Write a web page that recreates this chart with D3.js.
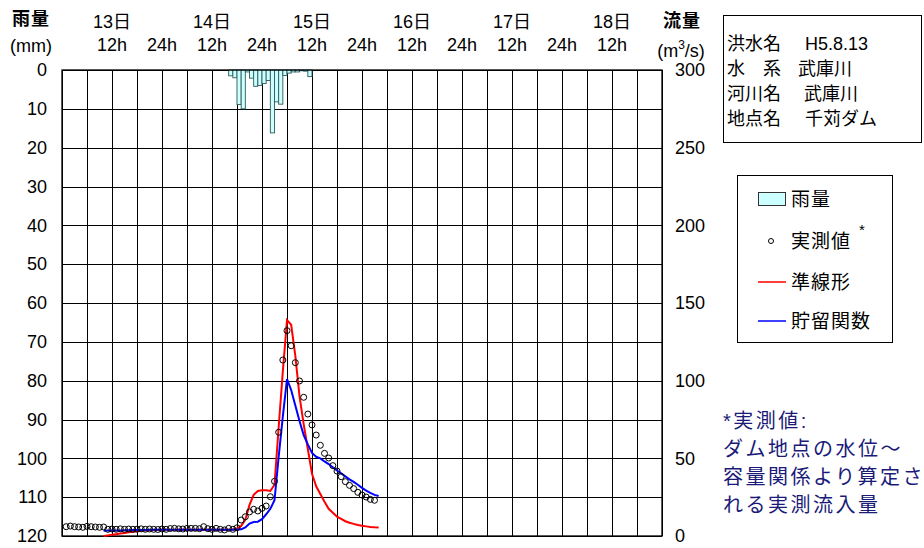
<!DOCTYPE html>
<html><head><meta charset="utf-8">
<script src="https://cdn.jsdelivr.net/npm/d3@7"></script>
<style>
body{margin:0;background:#fff}
svg{display:block;font-family:"Liberation Sans","Noto Sans CJK JP",Arial,sans-serif}
</style>
</head><body>
<svg id="c" width="924" height="548"></svg>
<script>
// ---- data ----
const dayLabels = ["13日","14日","15日","16日","17日","18日"];
const dayLabelHours = [12,36,60,84,108,132];
const hourTickHours = [12,24,36,48,60,72,84,96,108,120,132];
const hourTickLabels = ["12h","24h","12h","24h","12h","24h","12h","24h","12h","24h","12h"];
const rainTicks = [0,10,20,30,40,50,60,70,80,90,100,110,120];
const flowTicks = [0,50,100,150,200,250,300];

// hourly rainfall (mm) starting at hour 40 (14日 16h)
const rainStartHour = 40;
const rainfall = [1.5,2.0,8.9,10.0,0.5,2.1,4.2,4.0,3.5,2.7,16.2,8.2,8.8,1.4,0.8,0.5,0.5,0.2,0.3,1.7];

// observed inflow (m3/s), hourly from hour 1
const obsStartHour = 1;
const observed = [6.0,6.4,6.0,5.8,5.6,6.2,6.0,5.8,5.6,5.8,
  4.3,4.5,4.3,4.6,4.3,4.5,4.3,4.4,4.6,4.3,4.5,4.3,4.2,4.5,4.3,4.8,4.9,4.6,4.5,4.9,4.9,4.9,4.7,6.0,4.7,4.3,4.9,4.3,3.9,4.9,4.3,
  5.3,10.3,12.4,15.5,17.2,16.1,17.8,19.3,25.3,35.2,66.8,113.3,132.2,122.5,111.6,99.8,89.3,78.5,71.5,65.0,58.4,53.2,50.2,45.3,41.8,38.2,35.0,32.6,30.5,28.1,26.4,25.1,23.6,23.0];

// 準線形 (quasi-linear) computed flow, hourly from hour 10
const linearStartHour = 10;
const quasiLinear = [0,0.4,0.8,1.2,1.6,2.0,2.4,2.7,3.0,3.3,3.5,3.7,3.8,3.9,
  4.0,4.0,4.0,4.0,4.0,4.0,4.0,4.0,4.0,4.0,4.0,4.0,4.0,4.0,4.0,4.0,4.0,
  4.2,4.8,6.5,10.5,20,26.5,29,29.5,29.5,29,33,70,106,139,136,116,90,72,56,40,32,27,22,17.5,15,12.5,11,9.5,8.5,7.8,7.1,6.6,6.2,5.8,5.6,5.5];

// 貯留関数 (storage function) computed flow, hourly from hour 10
const storageStartHour = 10;
const storageFunc = [3.4,3.5,3.5,3.6,3.6,3.7,3.7,3.8,3.8,3.9,3.9,
  4.0,4.0,4.0,4.0,4.0,4.0,4.0,4.0,4.0,4.0,4.0,4.0,4.0,4.0,4.0,4.0,4.0,4.0,4.0,4.0,
  4.0,4.2,4.3,5.5,8,9,9.2,10.8,14,17.5,23,51,77,101,94,84,74,65,59,53.5,51,50,48,46.3,44.2,42.2,40.3,38.4,36.5,34.8,33,31,29.2,27.8,26.5,25.7];

// ---- drawing ----
const svg = d3.select("#c");
svg.append("rect").attr("width",924).attr("height",548).attr("fill","#fff");

const x = d3.scaleLinear().domain([0,144]).range([62,662]);
const yRain = d3.scaleLinear().domain([0,120]).range([70,536]);
const yFlow = d3.scaleLinear().domain([0,300]).range([536,70]);

// grid
const grid = svg.append("g").attr("stroke","#000").attr("stroke-width",1).attr("shape-rendering","crispEdges");
grid.selectAll("line.v").data(d3.range(0,145,6)).join("line")
  .attr("x1",d=>Math.round(x(d))+0.5).attr("x2",d=>Math.round(x(d))+0.5)
  .attr("y1",yRain(0)).attr("y2",yRain(120));
grid.selectAll("line.h").data(rainTicks).join("line")
  .attr("y1",d=>Math.round(yRain(d))+0.5).attr("y2",d=>Math.round(yRain(d))+0.5)
  .attr("x1",x(0)).attr("x2",x(144));

// rainfall bars
svg.append("g").selectAll("rect").data(rainfall).join("rect")
  .attr("x",(d,i)=>x(rainStartHour+i))
  .attr("width",(d,i)=>x(rainStartHour+i+1)-x(rainStartHour+i))
  .attr("y",yRain(0))
  .attr("height",d=>yRain(d)-yRain(0))
  .attr("fill","#ccffff").attr("stroke","#2f5a5a").attr("stroke-width",0.9);

// frame
svg.append("rect").attr("x",x(0)).attr("y",yRain(0)).attr("width",x(144)-x(0)).attr("height",yRain(120)-yRain(0))
  .attr("fill","none").attr("stroke","#000").attr("stroke-width",1.3);

// lines
const lineGen = start => d3.line().x((d,i)=>x(start+i)).y(d=>yFlow(d));
svg.append("path").datum(quasiLinear).attr("d",lineGen(linearStartHour))
  .attr("fill","none").attr("stroke","#ff0000").attr("stroke-width",2);
svg.append("path").datum(storageFunc).attr("d",lineGen(storageStartHour))
  .attr("fill","none").attr("stroke","#0000ff").attr("stroke-width",2);

// observed points
svg.append("g").selectAll("circle").data(observed).join("circle")
  .attr("cx",(d,i)=>x(obsStartHour+i)).attr("cy",d=>yFlow(d)).attr("r",3)
  .attr("fill","none").attr("stroke","#000").attr("stroke-width",1);

// axes
const axL = svg.append("g").attr("transform",`translate(${x(0)},0)`)
  .call(d3.axisLeft(yRain).tickValues(rainTicks).tickSize(0).tickPadding(15));
const axR = svg.append("g").attr("transform",`translate(${x(144)},0)`)
  .call(d3.axisRight(yFlow).tickValues(flowTicks).tickSize(0).tickPadding(13));
[axL,axR].forEach(a=>{
  a.select(".domain").remove();
  a.selectAll("text").attr("font-size",18).attr("font-family",null).attr("fill","#000");
});

// top labels
svg.append("g").selectAll("text").data(dayLabels).join("text")
  .attr("x",(d,i)=>x(dayLabelHours[i])).attr("y",28).attr("text-anchor","middle")
  .attr("font-size",18).text(d=>d);
svg.append("g").selectAll("text").data(hourTickLabels).join("text")
  .attr("x",(d,i)=>x(hourTickHours[i])).attr("y",51).attr("text-anchor","middle")
  .attr("font-size",18).text(d=>d);

// axis titles
svg.append("text").attr("x",31).attr("y",25).attr("text-anchor","middle").attr("font-size",18)
  .attr("font-weight","bold").attr("letter-spacing",1).text("雨量");
svg.append("text").attr("x",31).attr("y",52).attr("text-anchor","middle").attr("font-size",18).text("(mm)");
svg.append("text").attr("x",682).attr("y",27).attr("text-anchor","middle").attr("font-size",18)
  .attr("font-weight","bold").attr("letter-spacing",1).text("流量");
const u = svg.append("text").attr("x",681).attr("y",57).attr("text-anchor","middle").attr("font-size",18);
u.append("tspan").text("(m");
u.append("tspan").attr("font-size",12).attr("dy",-8).text("3");
u.append("tspan").attr("dy",8).text("/s)");

// info box
svg.append("rect").attr("x",723.5).attr("y",15.5).attr("width",198).attr("height",127)
  .attr("fill","#fff").attr("stroke","#000").attr("stroke-width",1);
const info = [
  {y:50, parts:[[727,"洪水名"],[805,"H5.8.13"]]},
  {y:75, parts:[[727,"水"],[763,"系"],[798,"武庫川"]]},
  {y:100,parts:[[727,"河川名"],[804,"武庫川"]]},
  {y:125,parts:[[727,"地点名"],[805,"千苅ダム"]]}
];
info.forEach(r=>r.parts.forEach(p=>{
  svg.append("text").attr("x",p[0]).attr("y",r.y).attr("font-size",18).text(p[1]);
}));

// legend
svg.append("rect").attr("x",737.5).attr("y",175.5).attr("width",155).attr("height",167)
  .attr("fill","#fff").attr("stroke","#000").attr("stroke-width",1);
svg.append("rect").attr("x",758.5).attr("y",192.5).attr("width",27).attr("height",13)
  .attr("fill","#ccffff").attr("stroke","#333");
svg.append("circle").attr("cx",771).attr("cy",241).attr("r",2.5).attr("fill","none").attr("stroke","#000");
svg.append("line").attr("x1",758).attr("x2",786).attr("y1",282).attr("y2",282).attr("stroke","#ff0000").attr("stroke-width",1.5);
svg.append("line").attr("x1",758).attr("x2",786).attr("y1",321).attr("y2",321).attr("stroke","#0000ff").attr("stroke-width",1.5);
[["雨量",206],["実測値",248],["準線形",289],["貯留関数",328]].forEach(d=>{
  svg.append("text").attr("x",791).attr("y",d[1]).attr("font-size",19).attr("letter-spacing",1).text(d[0]);
});
svg.append("text").attr("x",859).attr("y",235).attr("font-size",15).text("*");

// annotation
const note = ["*実測値:","ダム地点の水位～","容量関係より算定さ","れる実測流入量"];
svg.append("g").selectAll("text").data(note).join("text")
  .attr("x",723).attr("y",(d,i)=>428+i*28).attr("font-size",20).attr("letter-spacing",2.5)
  .attr("fill","#1a1a78").text(d=>d);
</script>
</body></html>
